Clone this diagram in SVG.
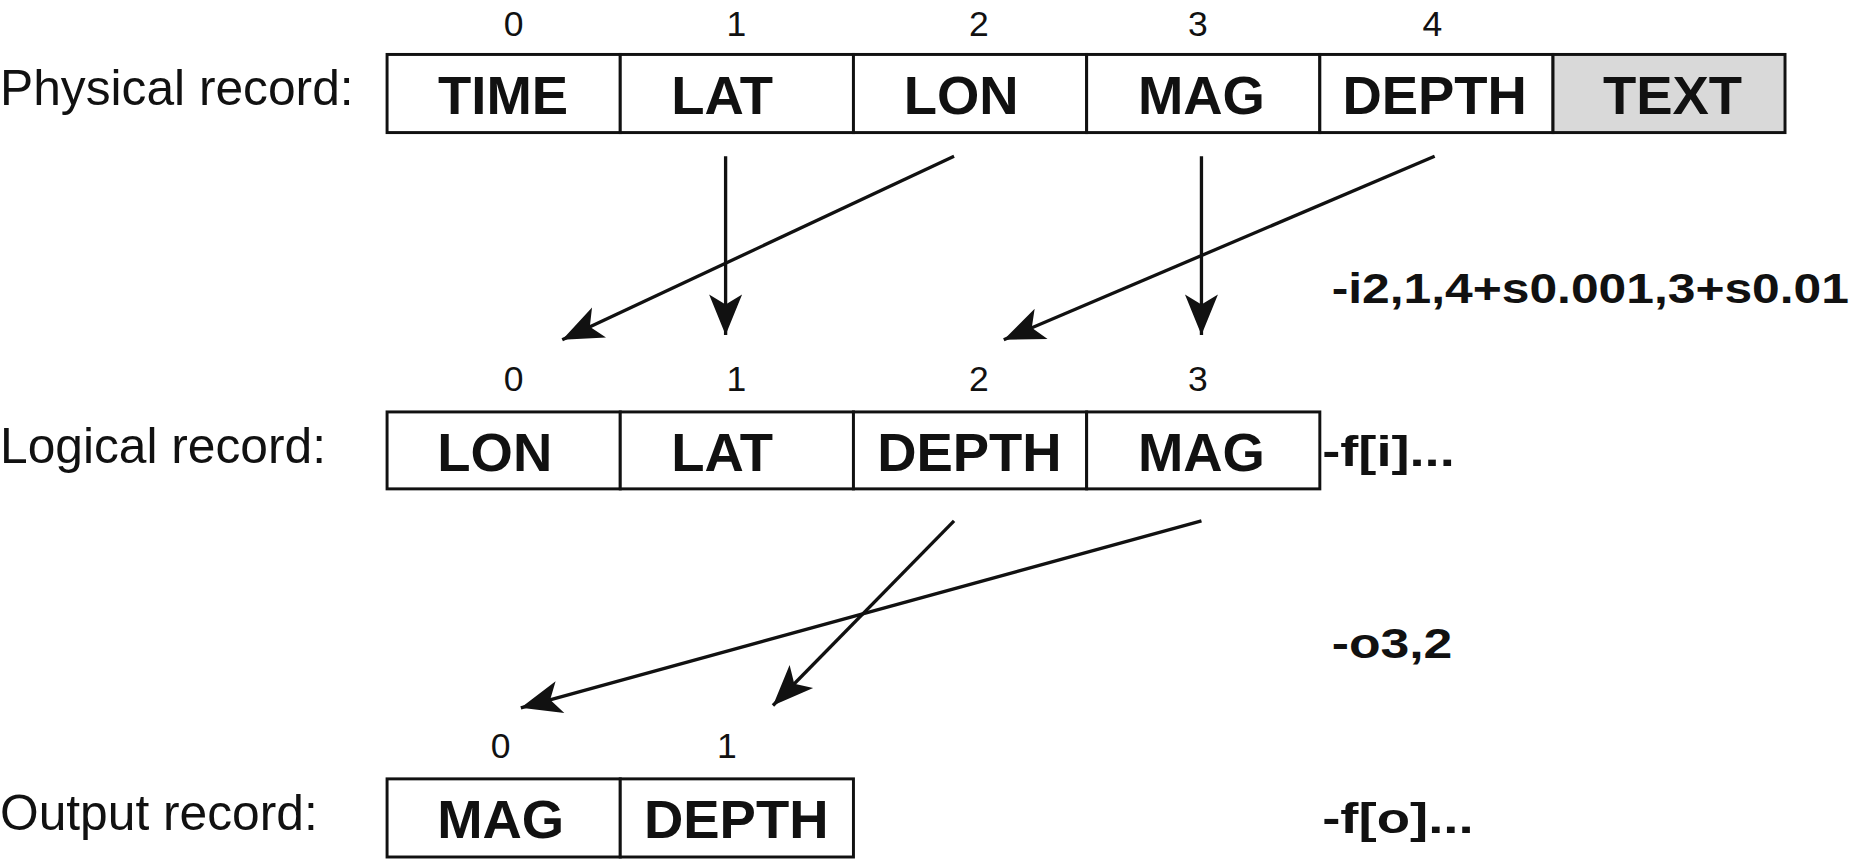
<svg xmlns="http://www.w3.org/2000/svg" width="1856" height="866" viewBox="0 0 1856 866">
<style>
.lbl{font-family:"Liberation Sans",Arial,sans-serif;font-size:42px;fill:#111}
.num{font-family:"Liberation Sans",Arial,sans-serif;font-size:30px;fill:#111;text-anchor:middle}
.cell{fill:#fff;stroke:#111;stroke-width:2.5}
.ct{font-family:"Liberation Sans",Arial,sans-serif;font-size:46px;font-weight:bold;fill:#111;text-anchor:middle}
.opt{font-family:"Liberation Sans",Arial,sans-serif;font-size:36px;font-weight:bold;fill:#111}
.ar{stroke:#111;stroke-width:2.8;fill:none;marker-end:url(#ah)}
</style>
<defs>
<marker id="ah" markerUnits="userSpaceOnUse" markerWidth="40" markerHeight="30" viewBox="-32 -14 34 28" refX="0" refY="0" orient="auto">
<path d="M0,0 L-32,-13 L-24,0 L-32,13 Z" fill="#111"/>
</marker>
</defs>
<rect width="1856" height="866" fill="#fff"/>
<g transform="scale(1.1837)">
<g id="physical">
<text class="lbl" x="0" y="89">Physical record:</text>
<rect class="cell" x="327" y="46" width="197" height="66"/>
<rect class="cell" x="524" y="46" width="197" height="66"/>
<rect class="cell" x="721" y="46" width="197" height="66"/>
<rect class="cell" x="918" y="46" width="197" height="66"/>
<rect class="cell" x="1115" y="46" width="197" height="66"/>
<rect class="cell" x="1312" y="46" width="196" height="66" style="fill:#d9d9d9"/>
<text class="ct" x="425" y="96">TIME</text>
<text class="ct" x="610" y="96">LAT</text>
<text class="ct" x="812" y="96">LON</text>
<text class="ct" x="1015" y="96">MAG</text>
<text class="ct" x="1212" y="96">DEPTH</text>
<text class="ct" x="1413" y="96">TEXT</text>
<text class="num" x="434" y="30">0</text>
<text class="num" x="622" y="30">1</text>
<text class="num" x="827" y="30">2</text>
<text class="num" x="1012" y="30">3</text>
<text class="num" x="1210" y="30">4</text>
</g>
<g id="logical">
<text class="lbl" x="0" y="391">Logical record:</text>
<rect class="cell" x="327" y="348" width="197" height="65"/>
<rect class="cell" x="524" y="348" width="197" height="65"/>
<rect class="cell" x="721" y="348" width="197" height="65"/>
<rect class="cell" x="918" y="348" width="197" height="65"/>
<text class="ct" x="418" y="398">LON</text>
<text class="ct" x="610" y="398">LAT</text>
<text class="ct" x="819" y="398">DEPTH</text>
<text class="ct" x="1015" y="398">MAG</text>
<text class="num" x="434" y="330">0</text>
<text class="num" x="622" y="330">1</text>
<text class="num" x="827" y="330">2</text>
<text class="num" x="1012" y="330">3</text>
</g>
<g id="output">
<text class="lbl" x="0" y="701">Output record:</text>
<rect class="cell" x="327" y="658" width="197" height="66"/>
<rect class="cell" x="524" y="658" width="197" height="66"/>
<text class="ct" x="423" y="708">MAG</text>
<text class="ct" x="622" y="708">DEPTH</text>
<text class="num" x="423" y="640">0</text>
<text class="num" x="614" y="640">1</text>
</g>
<g id="options">
<text class="opt" x="1125" y="256" textLength="437" lengthAdjust="spacingAndGlyphs">-i2,1,4+s0.001,3+s0.01</text>
<text class="opt" x="1117" y="394" textLength="112" lengthAdjust="spacingAndGlyphs">-f[i]...</text>
<text class="opt" x="1125" y="556" textLength="102" lengthAdjust="spacingAndGlyphs">-o3,2</text>
<text class="opt" x="1117" y="704" textLength="128" lengthAdjust="spacingAndGlyphs">-f[o]...</text>
</g>
<g id="connectors">
<line class="ar" x1="613" y1="132" x2="613" y2="283"/>
<line class="ar" x1="806" y1="132" x2="475" y2="287"/>
<line class="ar" x1="1015" y1="132" x2="1015" y2="283"/>
<line class="ar" x1="1212" y1="132" x2="848" y2="287"/>
<line class="ar" x1="806" y1="440" x2="653" y2="596"/>
<line class="ar" x1="1015" y1="440" x2="440" y2="598"/>
</g>
</g>
</svg>
